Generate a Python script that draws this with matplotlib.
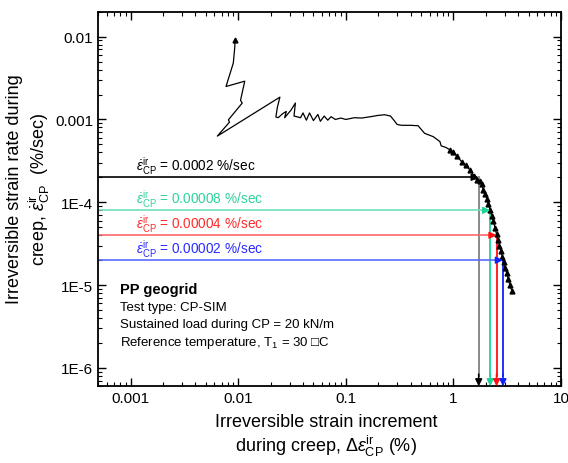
import matplotlib
matplotlib.use("Agg")
import matplotlib.pyplot as plt
from matplotlib.ticker import FixedLocator, LogLocator, NullFormatter

plt.rcParams['font.family'] = ['Liberation Sans', 'DejaVu Sans']
plt.rcParams['mathtext.fontset'] = 'custom'
plt.rcParams['mathtext.rm'] = 'Liberation Sans'
plt.rcParams['mathtext.it'] = 'Liberation Sans:italic'
plt.rcParams['mathtext.bf'] = 'Liberation Sans:bold'

# Irreversible strain increment (%) vs. irreversible strain rate (%/sec)
strain = [0.0093, 0.0093, 0.0090, 0.0077, 0.0115, 0.0105, 0.0109, 0.0081, 0.0083, 0.0064,
          0.0244, 0.0231, 0.0224, 0.0235, 0.026, 0.028, 0.027, 0.031, 0.034, 0.033,
          0.038, 0.040, 0.043, 0.046, 0.050, 0.055, 0.058, 0.063, 0.068, 0.073,
          0.080, 0.090, 0.10, 0.12, 0.14, 0.17, 0.20, 0.23, 0.26, 0.28,
          0.30, 0.33, 0.40, 0.47, 0.54, 0.65, 0.75, 0.77, 0.85,
          0.93, 1.00, 1.08, 1.19, 1.30, 1.42, 1.55, 1.66, 1.75, 1.83,
          1.90, 1.97, 2.05, 2.12, 2.20, 2.28, 2.36, 2.44, 2.52, 2.60,
          2.68, 2.76, 2.85, 2.94, 3.03, 3.13, 3.23, 3.35, 3.50]
rate = [0.0091, 0.0076, 0.0048, 0.0025, 0.0029, 0.0017, 0.00158, 0.00099, 0.00093, 0.00063,
        0.00186, 0.0014, 0.00107, 0.00105, 0.00118, 0.00125, 0.00105, 0.0013, 0.00158, 0.0011,
        0.00105, 0.0012, 0.00098, 0.0012, 0.00097, 0.00115, 0.00095, 0.0011, 0.00098, 0.00108,
        0.0010, 0.00104, 0.0010, 0.00105, 0.00104, 0.00108, 0.00112, 0.00114, 0.0011, 0.00098,
        0.00087, 0.00085, 0.00085, 0.00084, 0.00068, 0.00062, 0.00054, 0.00048, 0.00046,
        0.00043, 0.00040, 0.00036, 0.00031, 0.00028, 0.000247, 0.00021, 0.000187, 0.00018, 0.000165,
        0.00014, 0.000125, 0.00011, 0.000095, 0.000080, 0.000069, 0.000059, 0.000049, 0.000041, 0.000035,
        0.000030, 0.000026, 0.000022, 0.000019, 0.000016, 0.000014, 0.000012, 0.000010, 0.0000085]

# Reference strain rates and the strain increments where the curve reaches them
rate_levels = [0.0002, 0.00008, 0.00004, 0.00002]
rate_labels = ['0.0002', '0.00008', '0.00004', '0.00002']
strain_at_rate = [1.72, 2.20, 2.52, 2.89]
h_colors = ['#000000', '#6fe0b8', '#ff6b6b', '#5a6bff']
v_colors = ['#808080', '#1fd49a', '#ff1010', '#1020ff']
head_colors = ['#000000', '#1fd49a', '#ff1010', '#1020ff']
text_colors = ['#000000', '#2ed39a', '#ff2a2a', '#2a2aff']

x_ticks = [0.001, 0.01, 0.1, 1, 10]
x_ticklabels = ['0.001', '0.01', '0.1', '1', '10']
y_ticks = [1e-6, 1e-5, 1e-4, 1e-3, 1e-2]
y_ticklabels = ['1E-6', '1E-5', '1E-4', '0.001', '0.01']

info_lines = ['Test type: CP-SIM',
              'Sustained load during CP = 20 kN/m',
              'Reference temperature, T$_1$ = 30 \u25a1C']

rate_symbol = r'$\dot{\varepsilon}^{\rm ir}_{\rm CP}$'

fig = plt.figure(figsize=(5.68, 4.64), dpi=100)
ax = fig.add_axes([0.173, 0.1653, 0.8146, 0.8073])
ax.set_xscale('log')
ax.set_yscale('log')
xmin, xmax = 0.0005, 10
ymin, ymax = 6e-7, 0.02
ax.set_xlim(xmin, xmax)
ax.set_ylim(ymin, ymax)

marker_idx = [0] + list(range(49, len(strain)))
ax.plot(strain, rate, color='black', lw=0.9, marker='^', markersize=3.5,
        markevery=marker_idx, zorder=3)

for lvl, lab, sx, hc, vc, hd, tc in zip(rate_levels, rate_labels, strain_at_rate,
                                       h_colors, v_colors, head_colors, text_colors):
    ax.plot([xmin, sx * 0.93], [lvl, lvl], color=hc, lw=1.2, zorder=2)
    ax.annotate('', xy=(sx, lvl), xytext=(sx * 0.9, lvl),
                arrowprops=dict(arrowstyle='-|>', color=hd, lw=1.2,
                                mutation_scale=10, shrinkA=0, shrinkB=0), zorder=4)
    ax.plot([sx, sx], [lvl, ymin * 1.35], color=vc, lw=1.3, zorder=2)
    ax.annotate('', xy=(sx, ymin), xytext=(sx, ymin * 1.4),
                arrowprops=dict(arrowstyle='-|>', color=hd, lw=1.2,
                                mutation_scale=10, shrinkA=0, shrinkB=0), zorder=4)
    ax.text(0.00113, lvl * 1.42, rate_symbol + ' = ' + lab + ' %/sec',
            color=tc, fontsize=9.8, ha='left', va='center')

ax.text(0.047, 0.26, 'PP geogrid', transform=ax.transAxes, fontsize=10.5,
        fontweight='bold', ha='left', va='center')
for i, line in enumerate(info_lines):
    ax.text(0.047, 0.212 - i * 0.047, line, transform=ax.transAxes, fontsize=9.5,
            ha='left', va='center')

ax.xaxis.set_major_locator(FixedLocator(x_ticks))
ax.set_xticklabels(x_ticklabels)
ax.yaxis.set_major_locator(FixedLocator(y_ticks))
ax.set_yticklabels(y_ticklabels)
ax.xaxis.set_minor_locator(LogLocator(base=10, subs=range(2, 10)))
ax.yaxis.set_minor_locator(LogLocator(base=10, subs=range(2, 10)))
ax.xaxis.set_minor_formatter(NullFormatter())
ax.yaxis.set_minor_formatter(NullFormatter())
ax.tick_params(which='both', direction='in', top=True, right=True, labelsize=11)
ax.tick_params(which='major', length=5.5, width=1)
ax.tick_params(which='minor', length=3, width=0.8)
for s in ax.spines.values():
    s.set_linewidth(1.3)

ax.set_xlabel('Irreversible strain increment\n'
              r'during creep, $\Delta\varepsilon^{\rm ir}_{\rm CP}$ (%)', fontsize=13,
              linespacing=1.15)
ax.xaxis.set_label_coords(0.492, -0.072)
ax.set_ylabel('Irreversible strain rate during\n'
              'creep, ' + rate_symbol + '  (%/sec)', fontsize=13,
              linespacing=1.2)
ax.yaxis.set_label_coords(-0.10, 0.529)

fig.savefig('out.png', dpi=100)
